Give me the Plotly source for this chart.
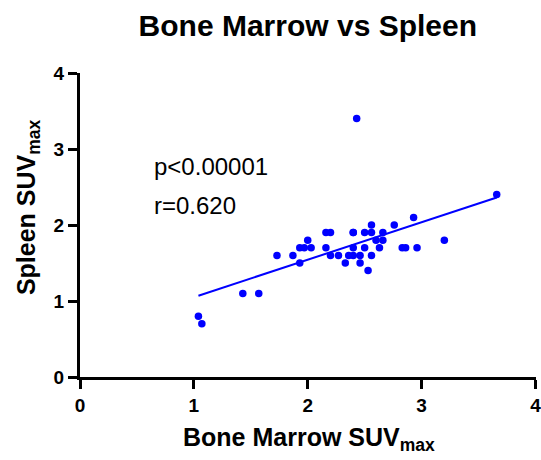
import numpy as np
import plotly.graph_objects as go

# Bone marrow SUVmax (x) vs spleen SUVmax (y)
bone_marrow = [1.04, 1.07, 1.43, 1.57, 1.73, 1.87, 1.93, 1.93, 1.97, 2.00,
               2.03, 2.16, 2.20, 2.16, 2.20, 2.27, 2.33, 2.36, 2.40, 2.40,
               2.40, 2.40, 2.43, 2.46, 2.46, 2.50, 2.50, 2.53, 2.56, 2.56,
               2.56, 2.60, 2.63, 2.66, 2.66, 2.76, 2.83, 2.86, 2.93, 2.96,
               3.20, 3.66]
spleen = [0.8, 0.7, 1.1, 1.1, 1.6, 1.6, 1.5, 1.7, 1.7, 1.8,
          1.7, 1.9, 1.9, 1.7, 1.6, 1.6, 1.5, 1.6, 1.6, 1.9,
          1.7, 1.9, 3.4, 1.6, 1.5, 1.9, 1.7, 1.4, 2.0, 1.9,
          1.6, 1.8, 1.7, 1.9, 1.8, 2.0, 1.7, 1.7, 2.1, 1.7,
          1.8, 2.4]
tick_values = [0, 1, 2, 3, 4]

p_text = "p<0.00001"
r_text = "r=0.620"

x = np.array(bone_marrow)
y = np.array(spleen)
slope, intercept = np.polyfit(x, y, 1)
fit_x = np.array([x.min(), x.max()])
fit_y = slope * fit_x + intercept

FONT = "Liberation Sans"

fig = go.Figure()
fig.add_trace(go.Scatter(
    x=bone_marrow, y=spleen, mode="markers",
    marker=dict(color="#0000ff", size=7.5),
    showlegend=False,
))
fig.add_trace(go.Scatter(
    x=fit_x, y=fit_y, mode="lines",
    line=dict(color="#0000ff", width=2),
    showlegend=False,
))

axis_style = dict(
    tickmode="array", tickvals=tick_values, ticktext=[str(v) for v in tick_values],
    showgrid=False, zeroline=False, automargin=False, ticklabeloverflow="allow",
    showline=True, linecolor="black", linewidth=3,
    ticks="outside", ticklen=9, tickwidth=3, tickcolor="black",
    tickfont=dict(family=FONT, size=19, color="black", weight="bold"),
)
fig.update_xaxes(**axis_style, range=[0, 4.005])
fig.update_yaxes(**axis_style, range=[0, 4])

# axis titles
fig.add_annotation(x=0.502, y=-0.205, xref="paper", yref="paper",
                   text="Bone Marrow SUV<sub>max</sub>", showarrow=False,
                   xanchor="center", yanchor="middle",
                   font=dict(family=FONT, size=25, color="black", weight="bold"))
fig.add_annotation(x=-0.114, y=0.559, xref="paper", yref="paper",
                   text="Spleen SUV<sub>max</sub>", showarrow=False, textangle=-90,
                   xanchor="center", yanchor="middle",
                   font=dict(family=FONT, size=25, color="black", weight="bold"))

fig.add_annotation(x=0.63, y=2.77, text=p_text, showarrow=False, xanchor="left",
                   font=dict(family=FONT, size=24, color="black"))
fig.add_annotation(x=0.63, y=2.26, text=r_text, showarrow=False, xanchor="left",
                   font=dict(family=FONT, size=24, color="black"))

fig.update_layout(
    width=541, height=460,
    margin=dict(l=80, r=5, t=73, b=83),
    plot_bgcolor="white", paper_bgcolor="white",
    title=dict(text="Bone Marrow vs Spleen", xref="container", x=0.569, xanchor="center",
               yref="container", y=0.945, yanchor="middle",
               font=dict(family=FONT, size=30, color="black", weight="bold")),
)

# drop the default page margin so the figure sits at the window's corner
fig.write_html("out.html", config={"displayModeBar": False},
               post_script="document.body.style.margin='0px';")
